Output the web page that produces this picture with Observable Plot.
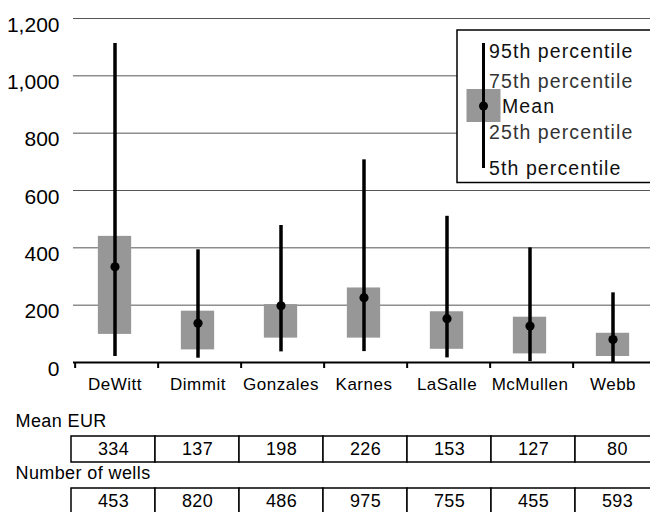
<!DOCTYPE html>
<html><head><meta charset="utf-8">
<script src="https://cdn.jsdelivr.net/npm/d3@7"></script>
<script src="https://cdn.jsdelivr.net/npm/@observablehq/plot@0.6"></script>
<style>
html,body{margin:0;padding:0;background:#fff;overflow:hidden;}
#chart svg,#table svg{display:block;}
[aria-label="x-axis tick label"] text{letter-spacing:0.5px;}
.tbl text{letter-spacing:0.4px;}
</style></head>
<body><div id="chart"></div><div id="table" class="tbl"></div>
<script>
// ---- data ----
const counties = ["DeWitt", "Dimmit", "Gonzales", "Karnes", "LaSalle", "McMullen", "Webb"];
const p5   = [21, 15, 37, 38, 16, 3, 0];
const p25  = [98, 44, 85, 85, 46, 30, 21];
const mean = [334, 137, 198, 226, 153, 127, 80];
const p75  = [440, 179, 202, 260, 177, 158, 102];
const p95  = [1113, 393, 478, 707, 510, 400, 243];
const wells = [453, 820, 486, 975, 755, 455, 593];
const yTicks = [0, 200, 400, 600, 800, 1000, 1200];
const rows = ["Mean EUR", "Number of wells"];
const legendLabels = ["95th percentile", "75th percentile", "Mean", "25th percentile", "5th percentile"];

const font = "'Liberation Sans', Arial, Helvetica, sans-serif";
const boxFill = "#979797";
const xRange = [70, 656];
const bw = (xRange[1] - xRange[0]) / counties.length;
const boxW = 34;

const data = counties.map((c, i) => ({county: c, p5: p5[i], p25: p25[i], mean: mean[i], p75: p75[i], p95: p95[i]}));
const tableData = [
  ...counties.map((c, i) => ({county: c, row: rows[0], value: mean[i]})),
  ...counties.map((c, i) => ({county: c, row: rows[1], value: wells[i]}))
];

function legendMark() {
  const g = d3.create("svg:g");
  g.append("rect").attr("x", 457).attr("y", 30).attr("width", 240).attr("height", 152.5)
    .attr("fill", "white").attr("stroke", "black").attr("stroke-width", 1.5);
  g.append("rect").attr("x", 466.5).attr("y", 89).attr("width", boxW).attr("height", 33).attr("fill", boxFill);
  g.append("line").attr("x1", 483.5).attr("x2", 483.5).attr("y1", 43).attr("y2", 168)
    .attr("stroke", "black").attr("stroke-width", 3);
  g.append("circle").attr("cx", 483.5).attr("cy", 106).attr("r", 4.5).attr("fill", "black");
  const pos = [[489, 57.7], [489, 88.3], [502, 112.7], [489, 139.3], [489, 175]];
  const cols = ["#111", "#333", "#111", "#333", "#111"];
  legendLabels.forEach((t, i) => {
    g.append("text").attr("x", pos[i][0]).attr("y", pos[i][1]).attr("fill", cols[i])
      .attr("text-anchor", "start").attr("font-size", 19.5)
      .style("letter-spacing", "1.1px").text(t);
  });
  return g.node();
}

const chart = Plot.plot({
  width: 650, height: 400,
  marginLeft: 73, marginRight: 0, marginTop: 18, marginBottom: 38,
  style: {fontFamily: font, background: "white", color: "black"},
  x: {type: "band", domain: counties, range: xRange, padding: 0},
  y: {domain: [0, 1200]},
  marks: [
    Plot.ruleY(yTicks.filter(v => v > 0), {stroke: "#555", strokeWidth: 1}),
    legendMark,
    Plot.barY(data, {x: "county", y1: "p25", y2: "p75", fill: boxFill,
      insetLeft: (bw - boxW) / 2, insetRight: (bw - boxW) / 2}),
    Plot.ruleX(data, {x: "county", y1: "p5", y2: "p95", stroke: "black", strokeWidth: 3.5}),
    Plot.dot(data, {x: "county", y: "mean", r: 4.6, fill: "black", stroke: null}),
    Plot.ruleY([0], {stroke: "black", strokeWidth: 2}),
    Plot.ruleX(counties, {x: d => d, y1: 0, y2: 0, insetBottom: -6, dx: -bw / 2 + 2, stroke: "black", strokeWidth: 2}),
    Plot.axisY(yTicks, {tickSize: 0, tickPadding: 14, fontSize: 21, dy: 6.5, tickFormat: d3.format(","), label: null}),
    Plot.axisX({tickSize: 0, tickPadding: 15, fontSize: 17, label: null})
  ]
});
document.getElementById("chart").append(chart);

const table = Plot.plot({
  width: 650, height: 112,
  marginLeft: 0, marginRight: 0, marginTop: 0, marginBottom: 0,
  style: {fontFamily: font, background: "white", color: "black"},
  x: {type: "band", domain: counties, range: [71, 659], padding: 0, axis: null},
  y: {type: "band", domain: rows, range: [36, 114], paddingInner: 0.5, paddingOuter: 0, align: 0, axis: null},
  marks: [
    Plot.cell(tableData, {x: "county", y: "row", fill: "white", stroke: "black", strokeWidth: 1.5}),
    Plot.text(tableData, {x: "county", y: "row", text: "value", fontSize: 18, fill: "black"}),
    Plot.text(rows, {y: d => d, text: d => d, frameAnchor: "left", textAnchor: "start", dx: 15, dy: -28, fontSize: 18, fill: "black"})
  ]
});
document.getElementById("table").append(table);
</script>
</body></html>
